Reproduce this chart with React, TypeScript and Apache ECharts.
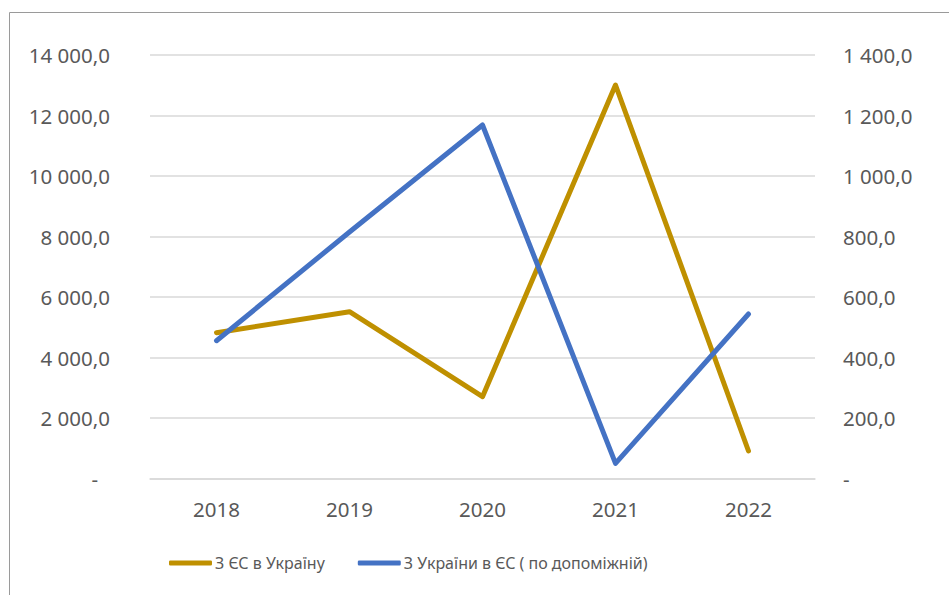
import React, { useEffect, useRef } from "react";
import * as echarts from "echarts";

const years = ["2018", "2019", "2020", "2021", "2022"];
const fromEU = [4820, 5514, 2704, 13008, 909];
const fromUkraine = [455.5, 815, 1168.6, 50, 543.8];
const seriesNames = ["З ЄС в Україну", "З України в ЄС ( по допоміжній)"];

const fmt = (v: number) => {
  if (v === 0) return "-";
  const s = v.toFixed(1);
  const [i, d] = s.split(".");
  return i.replace(/\B(?=(\d{3})+(?!\d))/g, " ") + "," + d;
};

const FONT = "Noto Sans";
const TXT = "#595959";
const AX = 20.5;

export default function App() {
  const ref = useRef<HTMLDivElement>(null);
  useEffect(() => {
    if (!ref.current) return;
    const chart = echarts.init(ref.current, undefined, { renderer: "svg" });
    chart.setOption({
      animation: false,
      backgroundColor: "#fff",
      textStyle: { fontFamily: FONT },
      graphic: [
        {
          type: "rect",
          shape: { x: 9.5, y: 12.5, width: 960, height: 620 },
          style: { fill: "none", stroke: "#9a9a9a", lineWidth: 1 },
          silent: true,
        },
      ],
      grid: { left: 150, right: 134, top: 55, bottom: 116.5 },
      legend: {
        top: 555,
        left: 169,
        padding: 0,
        icon: "roundRect",
        itemWidth: 43,
        itemHeight: 5,
        itemGap: 33,
        textStyle: { color: TXT, fontSize: 16, fontFamily: FONT, padding: [0, 0, 0, -2] },
        data: seriesNames,
      },
      xAxis: {
        type: "category",
        data: years,
        boundaryGap: true,
        axisLine: { show: true, lineStyle: { color: "#d9d9d9", width: 1.5 } },
        axisTick: { show: false },
        axisLabel: { color: TXT, fontSize: AX, fontFamily: FONT, margin: 20 },
      },
      yAxis: [
        {
          type: "value",
          min: 0,
          max: 14000,
          interval: 2000,
          axisLine: { show: false },
          axisTick: { show: false },
          splitLine: { lineStyle: { color: "#d9d9d9", width: 1.5 } },
          axisLabel: {
            color: TXT,
            fontSize: AX,
            fontFamily: FONT,
            margin: 40,
            formatter: (v: number) => (v === 0 ? "{z|-}" : fmt(v)),
            rich: { z: { color: TXT, fontSize: AX, fontFamily: FONT, padding: [0, 12, 0, 0] } },
          },
        },
        {
          type: "value",
          min: 0,
          max: 1400,
          interval: 200,
          position: "right",
          axisLine: { show: false },
          axisTick: { show: false },
          splitLine: { show: false },
          axisLabel: {
            color: TXT,
            fontSize: AX,
            fontFamily: FONT,
            margin: 28,
            formatter: (v: number) => fmt(v),
          },
        },
      ],
      series: [
        {
          name: seriesNames[0],
          type: "line",
          yAxisIndex: 0,
          data: fromEU,
          showSymbol: false,
          symbol: "none",
          lineStyle: { color: "#BF9000", width: 5, cap: "round", join: "round" },
          itemStyle: { color: "#BF9000" },
        },
        {
          name: seriesNames[1],
          type: "line",
          yAxisIndex: 1,
          data: fromUkraine,
          showSymbol: false,
          symbol: "none",
          lineStyle: { color: "#4472C4", width: 5, cap: "round", join: "round" },
          itemStyle: { color: "#4472C4" },
        },
      ],
    });
    return () => chart.dispose();
  }, []);
  return (
    <div
      ref={ref}
      style={{ position: "fixed", left: 0, top: 0, width: 949, height: 595 }}
    />
  );
}
